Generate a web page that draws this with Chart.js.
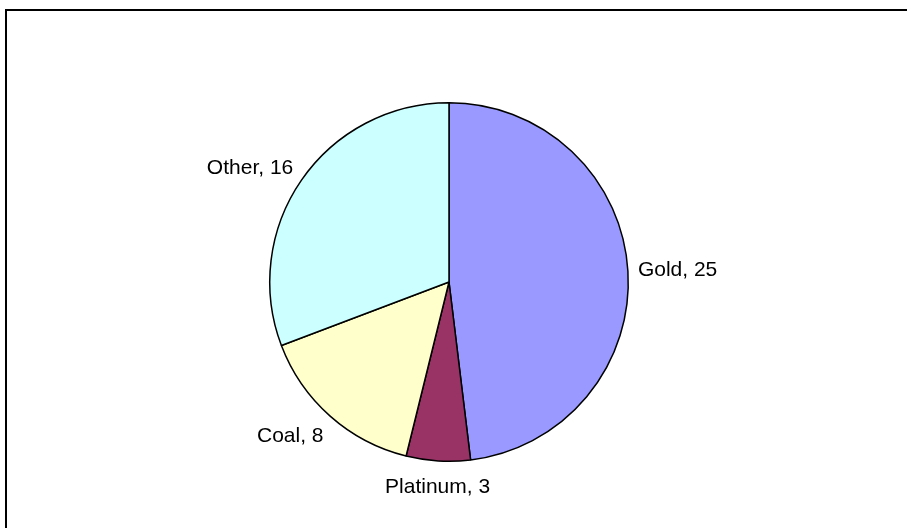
<!DOCTYPE html>
<html>
<head>
<meta charset="utf-8">
<script src="https://cdn.jsdelivr.net/npm/chart.js@4/dist/chart.umd.min.js"></script>
<style>
  html, body { margin: 0; padding: 0; background: #fff; overflow: hidden; }
  #wrap { position: relative; width: 907px; height: 528px; }
  #frame {
    position: absolute; left: 5px; top: 9px;
    width: 1000px; height: 1000px;
    border: 2px solid #000; box-sizing: border-box;
  }
  canvas { position: absolute; left: 0; top: 0; }
</style>
</head>
<body>
<div id="wrap">
  <div id="frame"></div>
  <canvas id="minesChart" width="907" height="528"></canvas>
</div>
<script>
var commodities = ["Gold", "Platinum", "Coal", "Other"];
var mineCounts = [25, 3, 8, 16];
var sliceColors = ["#9999FF", "#993366", "#FFFFCC", "#CCFFFF"];

// draw "Name, value" outside each slice, like the old office-style pie labels
const outsideLabels = {
  id: "outsideLabels",
  afterDatasetsDraw(chart) {
    const ctx = chart.ctx;
    const meta = chart.getDatasetMeta(0);
    ctx.save();
    ctx.font = "21px 'Liberation Sans', Arial, sans-serif";
    ctx.fillStyle = "#000";
    ctx.textBaseline = "middle";
    meta.data.forEach(function (arc, i) {
      const mid = (arc.startAngle + arc.endAngle) / 2;
      const dx = Math.cos(mid);
      const dy = Math.sin(mid);
      const r = arc.outerRadius + 10;
      const x = arc.x + dx * r;
      // labels below the pie sit a little lower
      const y = arc.y + dy * r + dy * 10.5 + (dy > 0 ? dy * 6 : 0);
      if (dx > 0.1) {
        ctx.textAlign = "left";
      } else if (dx < -0.1) {
        ctx.textAlign = "right";
      } else {
        ctx.textAlign = "center";
      }
      ctx.fillText(commodities[i] + ", " + mineCounts[i], x, y);
    });
    ctx.restore();
  },
};

new Chart(document.getElementById("minesChart"), {
  type: "pie",
  data: {
    labels: commodities,
    datasets: [
      {
        data: mineCounts,
        backgroundColor: sliceColors,
        borderColor: "#000",
        borderWidth: 1.5,
      },
    ],
  },
  options: {
    responsive: false,
    animation: false,
    layout: {
      padding: { top: 102, bottom: 66, left: 0, right: 9 },
    },
    plugins: {
      legend: { display: false },
      tooltip: { enabled: false },
    },
  },
  plugins: [outsideLabels],
});
</script>
</body>
</html>
